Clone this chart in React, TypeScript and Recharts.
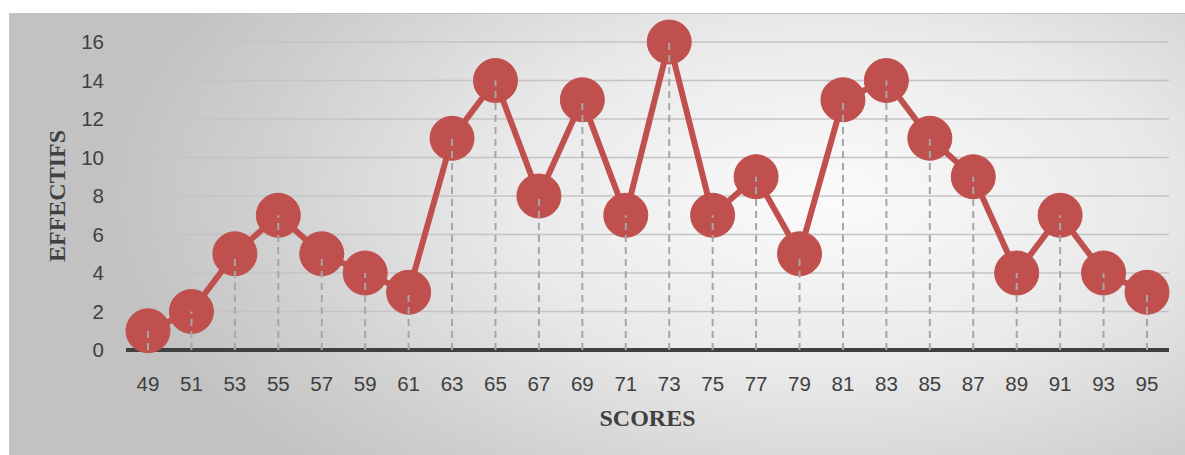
import React from "react";
import {
  LineChart,
  Line,
  XAxis,
  YAxis,
  CartesianGrid,
  ReferenceLine,
} from "recharts";

// Scores (axe X) et effectifs (axe Y)
const scores = [
  49, 51, 53, 55, 57, 59, 61, 63, 65, 67, 69, 71, 73, 75, 77, 79, 81, 83, 85,
  87, 89, 91, 93, 95,
];
const effectifs = [
  1, 2, 5, 7, 5, 4, 3, 11, 14, 8, 13, 7, 16, 7, 9, 5, 13, 14, 11, 9, 4, 7, 4, 3,
];
const yTicks = [0, 2, 4, 6, 8, 10, 12, 14, 16];

const data = scores.map((s, i) => ({ score: String(s), effectif: effectifs[i] }));

const RED = "#C0504D";
const TEXT = "#404040";
const tickFont = { fontFamily: "Liberation Sans, Arial, sans-serif", fontSize: 20.5, fill: TEXT };

const YTitle = ({ viewBox }: any) => {
  const { x, y, height } = viewBox;
  const cx = x + 17;
  const cy = y + height / 2;
  return (
    <text
      x={cx}
      y={cy}
      transform={`rotate(-90, ${cx}, ${cy})`}
      textAnchor="middle"
      dominantBaseline="central"
      fontFamily="Liberation Serif, Times New Roman, serif"
      fontWeight="bold"
      fontSize={24}
      fill={TEXT}
    >
      EFFECTIFS
    </text>
  );
};

export default function App() {
  return (
    <div
      style={{
        position: "fixed",
        left: 0,
        top: 0,
        width: 1185,
        height: 455,
        background: "#fff",
        overflow: "hidden",
      }}
    >
      <div
        style={{
          position: "absolute",
          left: 9,
          top: 13,
          width: 1200,
          height: 460,
          borderTop: "1px solid #c4c4c4",
          borderLeft: "1px solid #c4c4c4",
          background:
            "radial-gradient(ellipse 60% 85% at 68% 40%, #fbfbfb 0%, #e9e9e9 45%, #cfcfcf 80%, #c2c2c2 100%)",
        }}
      />
      <div style={{ position: "absolute", left: 0, top: 0 }}>
        <LineChart
          width={1185}
          height={455}
          data={data}
          margin={{ top: 42, right: 16, bottom: 25, left: 40 }}
        >
          <CartesianGrid vertical={false} stroke="#c4c4c4" strokeWidth={1.5} />
          <XAxis
            dataKey="score"
            axisLine={false}
            tickLine={false}
            tickSize={0}
            tickMargin={26}
            height={80}
            interval={0}
            padding={{ left: 22, right: 22 }}
            tick={tickFont}
            label={{
              value: "SCORES",
              position: "insideBottom",
              offset: 4,
              fontFamily: "Liberation Serif, Times New Roman, serif",
              fontWeight: "bold",
              fontSize: 24,
              fill: TEXT,
            }}
          />
          <YAxis
            domain={[0, 16]}
            ticks={yTicks}
            axisLine={false}
            tickLine={false}
            tickSize={0}
            tickMargin={22}
            width={86}
            tick={tickFont}
            label={<YTitle />}
          />
          <ReferenceLine y={0} stroke="#404040" strokeWidth={4} />
          <Line
            dataKey="effectif"
            stroke={RED}
            strokeWidth={6}
            dot={{ r: 22, fill: RED, stroke: RED, strokeWidth: 1 }}
            activeDot={false}
            isAnimationActive={false}
          />
          {data.map((d) => (
            <ReferenceLine
              key={d.score}
              segment={[
                { x: d.score, y: 0 },
                { x: d.score, y: d.effectif },
              ]}
              stroke="#a6a6a6"
              strokeWidth={2}
              strokeDasharray="7 5"
              zIndex={1500}
            />
          ))}
        </LineChart>
      </div>
    </div>
  );
}
